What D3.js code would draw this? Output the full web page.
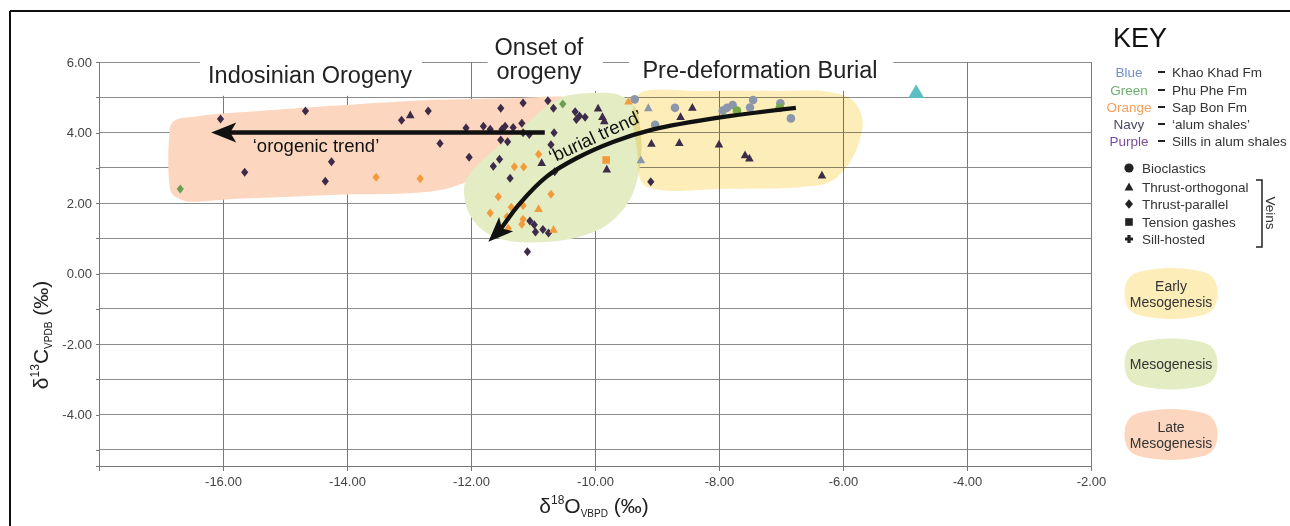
<!DOCTYPE html>
<html><head><meta charset="utf-8">
<script src="https://cdn.jsdelivr.net/npm/d3@7"></script>
<style>
body{margin:0;background:#fff;}
svg text{font-family:"Liberation Sans",Arial,Helvetica,sans-serif;}
</style></head><body>
<svg id="chart" width="1290" height="526"></svg>
<script>
// ---------- data ----------
const xTickValues = [-16,-14,-12,-10,-8,-6,-4,-2];
const yTickValues = [6,4,2,0,-2,-4];
const yGridValues = [6,5,4,3,2,1,0,-1,-2,-3,-4,-5];

// Navy = 'alum shales'
const navyDiamonds = [
  [-16.04,4.38],[-14.67,4.61],[-14.25,3.17],[-15.65,2.87],[-14.35,2.62],
  [-13.12,4.35],[-12.69,4.61],[-12.50,3.69],[-12.03,3.30],[-12.08,4.13],
  [-11.80,4.18],[-11.69,4.09],[-11.50,4.09],[-11.45,4.18],[-11.32,4.14],
  [-11.18,4.26],[-11.16,3.99],[-11.06,3.94],[-11.52,4.69],[-11.16,4.84],
  [-10.76,4.90],[-10.67,4.69],[-10.32,4.59],[-10.25,4.47],[-10.16,4.43],
  [-10.30,4.37],[-10.66,3.99],[-11.52,3.79],[-11.41,3.74],[-10.71,3.65],
  [-11.54,3.24],[-11.64,3.04],[-11.37,2.70],[-10.65,2.89],[-11.05,1.49],
  [-10.98,1.38],[-10.96,1.18],[-10.84,1.25],[-10.75,1.15],[-11.09,0.62],
  [-9.10,2.60]
];
const navyTriangles = [
  [-12.98,4.50],[-9.95,4.69],[-9.88,4.45],[-9.85,4.33],[-10.86,3.14],
  [-9.81,2.96],[-8.43,4.71],[-8.62,4.45],[-9.09,3.69],[-8.64,3.71],
  [-8.00,3.67],[-7.58,3.36],[-7.51,3.27],[-6.34,2.79]
];
// Blue = Khao Khad Fm
const blueCircles = [
  [-9.36,4.94],[-8.71,4.70],[-9.03,4.22],[-7.94,4.62],[-7.87,4.70],
  [-7.78,4.78],[-7.50,4.71],[-7.45,4.92],[-7.01,4.83],[-6.84,4.40]
];
const blueTriangles = [[-9.14,4.70],[-9.26,3.22]];
// Green = Phu Phe Fm
const greenCircles = [[-7.71,4.62],[-7.02,4.70]];
const greenDiamonds = [[-16.69,2.40],[-10.52,4.81]];
// Orange = Sap Bon Fm
const orangeDiamonds = [
  [-13.53,2.73],[-12.82,2.69],[-10.91,3.38],[-11.30,3.03],[-11.15,3.02],
  [-11.56,2.18],[-10.71,2.25],[-11.16,1.93],[-11.35,1.88],[-11.69,1.72],
  [-11.42,1.61],[-11.16,1.54],[-11.18,1.40],[-11.40,1.28]
];
const orangeTriangles = [[-10.91,1.84],[-10.67,1.25],[-9.46,4.89]];
const orangeSquares = [[-9.82,3.22]];
const tealTriangles = [[-4.82,5.15]];

// diagenetic fields (data coordinates)
const lateRegion = [
  [-16.81,4.30],[-16.37,4.47],[-15.40,4.61],[-14.27,4.75],[-12.66,4.92],
  [-11.21,4.98],[-10.48,5.01],[-10.24,4.92],[-10.56,4.21],[-11.21,3.50],
  [-11.85,2.79],[-12.50,2.37],[-14.27,2.23],[-15.89,2.11],[-16.61,2.06],
  [-16.82,2.26],[-16.87,2.65],[-16.87,3.79]
];
const mesoRegion = [
  [-10.52,5.01],[-10.03,5.12],[-9.60,5.06],[-9.35,4.70],[-9.26,3.93],
  [-9.27,3.08],[-9.44,2.09],[-9.79,1.40],[-10.32,1.01],[-10.89,0.89],
  [-11.37,0.92],[-11.77,1.18],[-12.02,1.66],[-12.11,2.23],[-12.08,2.65],
  [-11.69,3.42],[-11.21,4.07],[-10.81,4.70]
];
const earlyRegion = [
  [-9.27,5.12],[-8.31,5.18],[-7.02,5.18],[-6.21,5.15],[-5.85,4.92],
  [-5.69,4.41],[-5.73,3.79],[-5.92,3.08],[-6.21,2.60],[-6.69,2.45],
  [-7.98,2.40],[-8.95,2.37],[-9.24,2.57],[-9.32,3.50],[-9.39,4.64]
];
const orogenicTrend = [[-10.81,4.00],[-16.19,4.00]];
const burialTrend = [
  [-6.76,4.70],[-7.98,4.43],[-9.06,4.09],[-9.70,3.74],[-10.30,3.27],
  [-10.78,2.75],[-11.21,1.99],[-11.53,1.23],[-11.72,0.90]
];

const formationWords = ["Blue","Green","Orange","Navy","Purple"];
const formationNames = ["Khao Khad Fm","Phu Phe Fm","Sap Bon Fm","\u2018alum shales\u2019","Sills in alum shales"];
const shapeNames = ["Bioclastics","Thrust-orthogonal","Thrust-parallel","Tension gashes","Sill-hosted"];
const fieldNames = [["Early","Mesogenesis"],["Mesogenesis"],["Late","Mesogenesis"]];

// ---------- styles ----------
const C = {
  navy:"#3d2b4a", blue:"#8b96aa", green:"#76a847", greenD:"#6a9e50",
  orange:"#f39a3a", teal:"#5cbfc2",
  late:"#fcd6be", meso:"#e4ecc3", early:"#fdedb9",
  grid:"#8c8c8c", text:"#333"
};
const wordColors = ["#6f8fd0","#6cb06c","#f5a05a","#4a4a66","#7a4a9a"];
const fieldColors = [C.early, C.meso, C.late];

const svg = d3.select("#chart");
const x = d3.scaleLinear().domain([-18,-2]).range([99,1091]);
const y = d3.scaleLinear().domain([6,-5.46]).range([62,466]);

// outer frame
svg.append("line").attr("x1",10).attr("x2",1290).attr("y1",11).attr("y2",11).attr("stroke","#111").attr("stroke-width",2);
svg.append("line").attr("x1",10).attr("x2",10).attr("y1",11).attr("y2",526).attr("stroke","#111").attr("stroke-width",2);

// gridlines
const grid = svg.append("g");
grid.selectAll(".hg").data(yGridValues).join("line")
  .attr("x1",x(-18)).attr("x2",x(-2)).attr("y1",d=>y(d)).attr("y2",d=>y(d))
  .attr("stroke",C.grid).attr("stroke-width",1).attr("shape-rendering","crispEdges");
grid.selectAll(".vg").data(xTickValues).join("line")
  .attr("x1",d=>x(d)).attr("x2",d=>x(d)).attr("y1",y(6)).attr("y2",y(-5.46))
  .attr("stroke","#7a7a7a").attr("stroke-width",1).attr("shape-rendering","crispEdges");

// axes
const xAxis = svg.append("g").attr("transform",`translate(0,${y(-5.46)})`)
  .call(d3.axisBottom(x).tickValues(xTickValues).tickSizeOuter(0).tickSize(5).tickPadding(6).tickFormat(d=>d.toFixed(2)));
const yAxis = svg.append("g").attr("transform",`translate(${x(-18)},0)`)
  .call(d3.axisLeft(y).tickValues(yGridValues).tickSizeOuter(0).tickSize(3).tickPadding(4)
    .tickFormat(d=>yTickValues.includes(d)? d.toFixed(2):""));
[xAxis,yAxis].forEach(a=>{
  a.selectAll("path,line").attr("stroke","#777").attr("shape-rendering","crispEdges");
  a.selectAll("text").attr("fill","#444").style("font-size","13px")
   .style("font-family","'Liberation Sans',Arial,sans-serif");
});

// white label boxes over top gridline
const boxes = [[-16.37,-12.79,5.04],[-11.73,-9.87,5.18],[-9.45,-5.19,5.18]];
svg.selectAll(".wb").data(boxes).join("rect")
  .attr("x",d=>x(d[0])).attr("width",d=>x(d[1])-x(d[0]))
  .attr("y",y(6)-2).attr("height",d=>y(d[2])-y(6)+2).attr("fill","#fff");

// diagenetic fields
const area = d3.line().x(d=>x(d[0])).y(d=>y(d[1])).curve(d3.curveCatmullRomClosed.alpha(0.5));
svg.append("path").attr("d",area(lateRegion)).attr("fill",C.late);
svg.append("path").attr("d",area(mesoRegion)).attr("fill",C.meso);
svg.append("path").attr("d",area(earlyRegion)).attr("fill",C.early).style("mix-blend-mode","multiply");

// markers
const shapes = {
  diamond:"M0,-4.5L3.6,0L0,4.5L-3.6,0Z",
  triangle:"M0,-4.5L4.3,3.3L-4.3,3.3Z",
  bigTriangle:"M0,-7.5L8,6L-8,6Z",
  square:"M-3.8,-3.8h7.6v7.6h-7.6Z",
  circle:"M4.3,0A4.3,4.3 0 1 1 -4.3,0A4.3,4.3 0 1 1 4.3,0Z"
};
function plot(data, shape, color){
  svg.append("g").selectAll("path").data(data).join("path")
    .attr("d",shapes[shape]).attr("fill",color)
    .attr("transform",d=>`translate(${x(d[0])},${y(d[1])})`);
}
plot(blueCircles,"circle",C.blue);
plot(greenCircles,"circle",C.green);
plot(blueTriangles,"triangle",C.blue);
plot(navyTriangles,"triangle",C.navy);
plot(navyDiamonds,"diamond",C.navy);
plot(orangeDiamonds,"diamond",C.orange);
plot(orangeTriangles,"triangle",C.orange);
plot(orangeSquares,"square",C.orange);
plot(greenDiamonds,"diamond",C.greenD);
plot(tealTriangles,"bigTriangle",C.teal);

// arrows
function arrowHead(p0,p1,L,W,n){
  const dx=p1[0]-p0[0], dy=p1[1]-p0[1], len=Math.hypot(dx,dy);
  const ux=dx/len, uy=dy/len, px=-uy, py=ux;
  const bx=p1[0]-ux*L, by=p1[1]-uy*L;
  return {pts:[[p1[0],p1[1]],[bx+px*W,by+py*W],[p1[0]-ux*(L-n),p1[1]-uy*(L-n)],[bx-px*W,by-py*W]],
          base:[p1[0]-ux*(L-n-1),p1[1]-uy*(L-n-1)]};
}
function drawArrow(data, curve){
  const pts = data.map(d=>[x(d[0]),y(d[1])]);
  const h = arrowHead(pts[pts.length-2], pts[pts.length-1], 25, 10, 6);
  const linePts = pts.slice(0,-1).concat([h.base]);
  svg.append("path").attr("d",d3.line().curve(curve)(linePts))
    .attr("fill","none").attr("stroke","#111").attr("stroke-width",4.3);
  svg.append("path").attr("d","M"+h.pts.map(p=>p.join(",")).join("L")+"Z").attr("fill","#111");
}
drawArrow(orogenicTrend, d3.curveLinear);
drawArrow(burialTrend, d3.curveCatmullRom.alpha(0.5));

// annotation text
const ann = svg.append("g").attr("fill","#222").style("font-size","23.5px");
ann.append("text").attr("x",310).attr("y",83).attr("text-anchor","middle").text("Indosinian Orogeny");
ann.append("text").attr("x",539).attr("y",55).attr("text-anchor","middle").text("Onset of");
ann.append("text").attr("x",539).attr("y",79).attr("text-anchor","middle").text("orogeny");
ann.append("text").attr("x",760).attr("y",78).attr("text-anchor","middle").text("Pre-deformation Burial");
svg.append("text").attr("x",x(-14.50)).attr("y",y(3.45)).attr("text-anchor","middle")
  .style("font-size","18.5px").attr("fill","#111").text("\u2018orogenic trend\u2019");
svg.append("text").attr("transform",`translate(${x(-9.95)},${y(3.73)}) rotate(-25)`).attr("text-anchor","middle")
  .style("font-size","18.5px").attr("fill","#111").text("\u2018burial trend\u2019");

// axis titles
const xt = svg.append("text").attr("x",594).attr("y",513).attr("text-anchor","middle").attr("fill","#222");
xt.append("tspan").style("font-size","21px").text("\u03b4");
xt.append("tspan").style("font-size","12px").attr("dy",-9).text("18");
xt.append("tspan").style("font-size","21px").attr("dy",9).text("O");
xt.append("tspan").style("font-size","10px").attr("dy",4).text("VBPD");
xt.append("tspan").style("font-size","21px").attr("dy",-4).text(" (\u2030)");

const yt = svg.append("text").attr("transform","translate(48,335) rotate(-90)").attr("text-anchor","middle").attr("fill","#222");
yt.append("tspan").style("font-size","21px").text("\u03b4");
yt.append("tspan").style("font-size","12px").attr("dy",-9).text("13");
yt.append("tspan").style("font-size","21px").attr("dy",9).text("C");
yt.append("tspan").style("font-size","10px").attr("dy",4).text("VPDB");
yt.append("tspan").style("font-size","21px").attr("dy",-4).text(" (\u2030)");

// ---------- KEY ----------
const key = svg.append("g");
key.append("text").attr("x",1113).attr("y",47).style("font-size","27px").attr("fill","#111").text("KEY");
const rowY = [72,90,107,124,141];
formationWords.forEach((w,i)=>{
  key.append("text").attr("x",1129).attr("y",rowY[i]+4.7).attr("text-anchor","middle")
    .style("font-size","13.5px").attr("fill",wordColors[i]).text(w);
  key.append("line").attr("x1",1158).attr("x2",1165).attr("y1",rowY[i]).attr("y2",rowY[i])
    .attr("stroke","#222").attr("stroke-width",2);
  key.append("text").attr("x",1172).attr("y",rowY[i]+4.7)
    .style("font-size","13.5px").attr("fill",C.text).text(formationNames[i]);
});
const shapeY = [168,187,204,222,239];
const keyShapes = [
  "M4.6,0A4.6,4.6 0 1 1 -4.6,0A4.6,4.6 0 1 1 4.6,0Z",
  "M0,-4.6L4.4,3.4L-4.4,3.4Z",
  "M0,-4.8L4,0L0,4.8L-4,0Z",
  "M-3.8,-3.8h7.6v7.6h-7.6Z",
  "M-1.6,-4h3.2v2.4h2.4v3.2h-2.4v2.4h-3.2v-2.4h-2.4v-3.2h2.4Z"
];
shapeNames.forEach((n,i)=>{
  key.append("path").attr("d",keyShapes[i]).attr("fill","#222")
    .attr("transform",`translate(1129,${shapeY[i]})`);
  key.append("text").attr("x",1142).attr("y",shapeY[i]+4.7)
    .style("font-size","13.5px").attr("fill",C.text).text(n);
});
key.append("path").attr("d","M1256,180H1262V247H1256").attr("fill","none").attr("stroke","#222").attr("stroke-width",1.5);
key.append("text").attr("transform","translate(1266,213) rotate(90)").attr("text-anchor","middle")
  .style("font-size","13.5px").attr("fill",C.text).text("Veins");

// field swatches
const fieldCY = [293.5,364,434.5];
function pillow(cx,cy,w,h){
  const l=cx-w/2,r=cx+w/2,t=cy-h/2,b=cy+h/2;
  return `M${l+14},${t+4}Q${cx},${t-4} ${r-14},${t+4}Q${r},${t+8} ${r},${cy}Q${r},${b-8} ${r-14},${b-4}`+
         `Q${cx},${b+4} ${l+14},${b-4}Q${l},${b-8} ${l},${cy}Q${l},${t+8} ${l+14},${t+4}Z`;
}
fieldNames.forEach((lines,i)=>{
  key.append("path").attr("d",pillow(1171,fieldCY[i],93,51)).attr("fill",fieldColors[i]);
  const t = key.append("text").attr("text-anchor","middle").style("font-size","14px").attr("fill",C.text);
  const start = fieldCY[i] - (lines.length-1)*8 + 5;
  lines.forEach((ln,j)=>t.append("tspan").attr("x",1171).attr("y",start+j*16).text(ln));
});
</script>
</body></html>
